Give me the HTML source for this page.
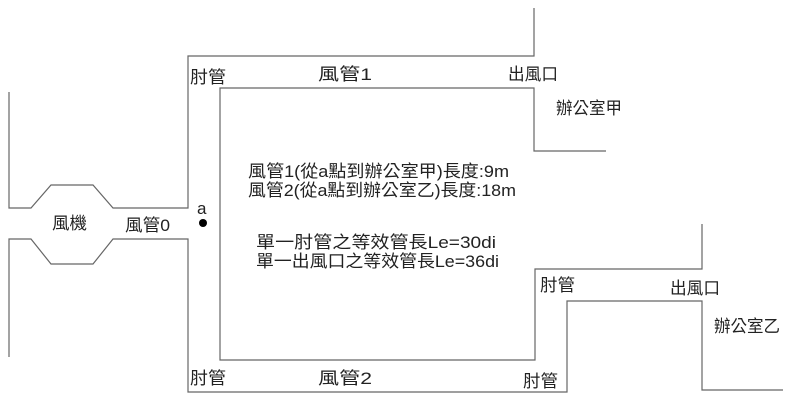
<!DOCTYPE html>
<html><head><meta charset="utf-8"><style>
html,body{margin:0;padding:0;background:#fff}
svg{display:block}
text{font-family:"Liberation Sans","Noto Sans CJK TC",sans-serif;font-size:17px;fill:#222}
</style></head><body>
<svg width="793" height="402" viewBox="0 0 793 402">
<g fill="none" stroke="#666" stroke-width="1.2">
<polyline points="9,92 9,208 31,208 51,185 93,185 113,208 188,208 188,56 534,56 534,8"/>
<polyline points="9,357 9,239 31,239 51,264 93,264 113,239 188,239 188,392 567,392 567,301 702,301 702,390 783,390"/>
<polyline points="606,151 534,151 534,88 220,88 220,360 535,360 535,269 702,269 702,224"/>
</g>
<circle cx="203" cy="223" r="4" fill="#000"/>
<text x="197" y="214" font-size="15">a</text>
<text x="190" y="83" textLength="36" lengthAdjust="spacingAndGlyphs">肘管</text>
<text x="318" y="80" textLength="54" lengthAdjust="spacingAndGlyphs">風管1</text>
<text x="508" y="80" textLength="50" lengthAdjust="spacingAndGlyphs">出風口</text>
<text x="556" y="114" textLength="66" lengthAdjust="spacingAndGlyphs">辦公室甲</text>
<text x="52" y="229" textLength="35" lengthAdjust="spacingAndGlyphs">風機</text>
<text x="125" y="231" textLength="45" lengthAdjust="spacingAndGlyphs">風管0</text>
<text x="248" y="177" textLength="261" lengthAdjust="spacingAndGlyphs">風管1(從a點到辦公室甲)長度:9m</text>
<text x="248" y="196" textLength="268" lengthAdjust="spacingAndGlyphs">風管2(從a點到辦公室乙)長度:18m</text>
<text x="256" y="248" textLength="240" lengthAdjust="spacingAndGlyphs">單一肘管之等效管長Le=30di</text>
<text x="256" y="267" textLength="243" lengthAdjust="spacingAndGlyphs">單一出風口之等效管長Le=36di</text>
<text x="540" y="291" textLength="35" lengthAdjust="spacingAndGlyphs">肘管</text>
<text x="670" y="294" textLength="50" lengthAdjust="spacingAndGlyphs">出風口</text>
<text x="714" y="332" textLength="66" lengthAdjust="spacingAndGlyphs">辦公室乙</text>
<text x="190" y="384" textLength="36" lengthAdjust="spacingAndGlyphs">肘管</text>
<text x="318" y="384" textLength="54" lengthAdjust="spacingAndGlyphs">風管2</text>
<text x="523" y="387" textLength="35" lengthAdjust="spacingAndGlyphs">肘管</text>
</svg>
</body></html>
